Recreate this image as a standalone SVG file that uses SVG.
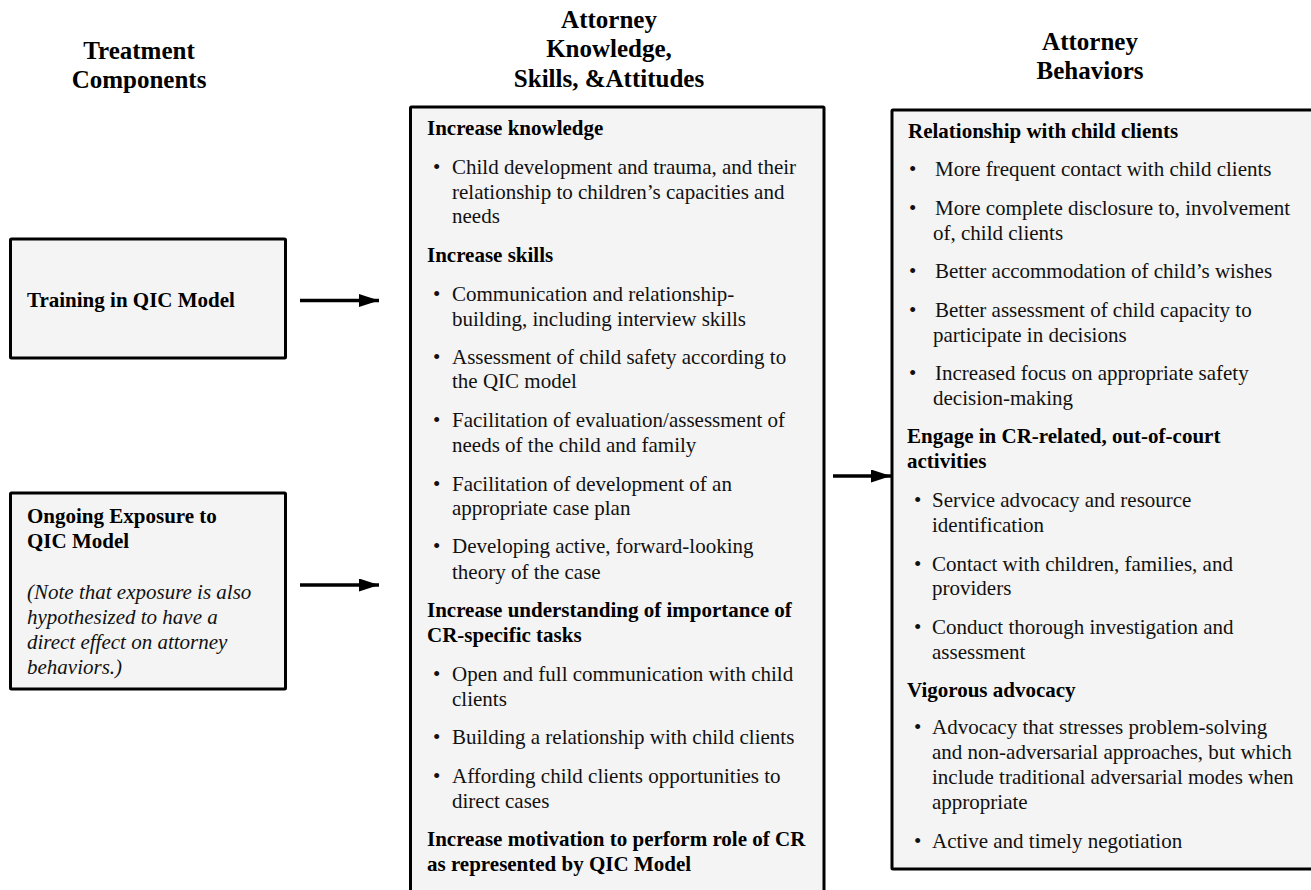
<svg xmlns="http://www.w3.org/2000/svg" width="1311" height="890" viewBox="0 0 1311 890">
<defs>
<style>
.box{fill:#f4f4f4;stroke:#000;stroke-width:3}
.hd{font-family:"Liberation Serif","Times New Roman",serif;font-size:25px;font-weight:bold;text-anchor:middle;fill:#000}
.b{font-family:"Liberation Serif","Times New Roman",serif;font-size:21px;font-weight:bold;fill:#000}
.t{font-family:"Liberation Serif","Times New Roman",serif;font-size:21px;fill:#111}
.i{font-family:"Liberation Serif","Times New Roman",serif;font-size:21px;font-style:italic;fill:#111}
.conn{stroke:#000;stroke-width:3.5;fill:none}
</style>
<marker id="ah" markerWidth="20" markerHeight="13" refX="20" refY="6.5" orient="auto" markerUnits="userSpaceOnUse">
<path d="M0,0 L20,6.5 L0,13 Z" fill="#000"/>
</marker>
</defs>
<rect width="1311" height="890" fill="#fff"/>

<g id="headers">
<text class="hd" x="139" y="59">Treatment</text>
<text class="hd" x="139" y="88">Components</text>
<text class="hd" x="609" y="28">Attorney</text>
<text class="hd" x="609" y="57">Knowledge,</text>
<text class="hd" x="609" y="87">Skills, &amp;Attitudes</text>
<text class="hd" x="1090" y="50">Attorney</text>
<text class="hd" x="1090" y="79">Behaviors</text>
</g>

<g id="training">
<rect class="box" x="10.5" y="239" width="275" height="119" rx="1"/>
<text class="b" x="27" y="307">Training in QIC Model</text>
</g>

<g id="exposure">
<rect class="box" x="10.5" y="493" width="275" height="196" rx="1"/>
<text class="b" x="27" y="523">Ongoing Exposure to</text>
<text class="b" x="27" y="548">QIC Model</text>
<text class="i" x="27" y="599">(Note that exposure is also</text>
<text class="i" x="27" y="624">hypothesized to have a</text>
<text class="i" x="27" y="649">direct effect on attorney</text>
<text class="i" x="27" y="674">behaviors.)</text>
</g>

<g id="ksa">
<rect class="box" x="410.5" y="107" width="413.5" height="800" rx="1"/>
<text class="b" x="427" y="135">Increase knowledge</text>
<text class="t" x="433" y="174">•</text>
<text class="t" x="452" y="174">Child development and trauma, and their</text>
<text class="t" x="452" y="199">relationship to children’s capacities and</text>
<text class="t" x="452" y="223">needs</text>
<text class="b" x="427" y="262">Increase skills</text>
<text class="t" x="433" y="301">•</text>
<text class="t" x="452" y="301">Communication and relationship-</text>
<text class="t" x="452" y="326">building, including interview skills</text>
<text class="t" x="433" y="364">•</text>
<text class="t" x="452" y="364">Assessment of child safety according to</text>
<text class="t" x="452" y="388">the QIC model</text>
<text class="t" x="433" y="427">•</text>
<text class="t" x="452" y="427">Facilitation of evaluation/assessment of</text>
<text class="t" x="452" y="452">needs of the child and family</text>
<text class="t" x="433" y="491">•</text>
<text class="t" x="452" y="491">Facilitation of development of an</text>
<text class="t" x="452" y="515">appropriate case plan</text>
<text class="t" x="433" y="553">•</text>
<text class="t" x="452" y="553">Developing active, forward-looking</text>
<text class="t" x="452" y="579">theory of the case</text>
<text class="b" x="427" y="617">Increase understanding of importance of</text>
<text class="b" x="427" y="642">CR-specific tasks</text>
<text class="t" x="433" y="681">•</text>
<text class="t" x="452" y="681">Open and full communication with child</text>
<text class="t" x="452" y="706">clients</text>
<text class="t" x="433" y="744">•</text>
<text class="t" x="452" y="744">Building a relationship with child clients</text>
<text class="t" x="433" y="783">•</text>
<text class="t" x="452" y="783">Affording child clients opportunities to</text>
<text class="t" x="452" y="808">direct cases</text>
<text class="b" x="427" y="846">Increase motivation to perform role of CR</text>
<text class="b" x="427" y="871">as represented by QIC Model</text>
</g>

<g id="behaviors">
<rect class="box" x="892" y="110" width="430" height="759" rx="1"/>
<text class="b" x="908" y="138">Relationship with child clients</text>
<text class="t" x="909" y="176">•</text>
<text class="t" x="935" y="176">More frequent contact with child clients</text>
<text class="t" x="909" y="215">•</text>
<text class="t" x="935" y="215">More complete disclosure to, involvement</text>
<text class="t" x="933" y="240">of, child clients</text>
<text class="t" x="909" y="278">•</text>
<text class="t" x="935" y="278">Better accommodation of child’s wishes</text>
<text class="t" x="909" y="317">•</text>
<text class="t" x="935" y="317">Better assessment of child capacity to</text>
<text class="t" x="933" y="342">participate in decisions</text>
<text class="t" x="909" y="380">•</text>
<text class="t" x="935" y="380">Increased focus on appropriate safety</text>
<text class="t" x="933" y="405">decision-making</text>
<text class="b" x="907" y="443">Engage in CR-related, out-of-court</text>
<text class="b" x="907" y="468">activities</text>
<text class="t" x="914" y="507">•</text>
<text class="t" x="932" y="507">Service advocacy and resource</text>
<text class="t" x="932" y="532">identification</text>
<text class="t" x="914" y="571">•</text>
<text class="t" x="932" y="571">Contact with children, families, and</text>
<text class="t" x="932" y="595">providers</text>
<text class="t" x="914" y="634">•</text>
<text class="t" x="932" y="634">Conduct thorough investigation and</text>
<text class="t" x="932" y="659">assessment</text>
<text class="b" x="907" y="697">Vigorous advocacy</text>
<text class="t" x="914" y="734">•</text>
<text class="t" x="932" y="734">Advocacy that stresses problem-solving</text>
<text class="t" x="932" y="759">and non-adversarial approaches, but which</text>
<text class="t" x="932" y="784">include traditional adversarial modes when</text>
<text class="t" x="932" y="809">appropriate</text>
<text class="t" x="914" y="848">•</text>
<text class="t" x="932" y="848">Active and timely negotiation</text>
</g>

<g id="connectors">
<line class="conn" x1="300" y1="300.5" x2="379" y2="300.5" marker-end="url(#ah)"/>
<line class="conn" x1="300" y1="585" x2="379" y2="585" marker-end="url(#ah)"/>
<line class="conn" x1="833" y1="476" x2="891" y2="476" marker-end="url(#ah)"/>
</g>
</svg>
